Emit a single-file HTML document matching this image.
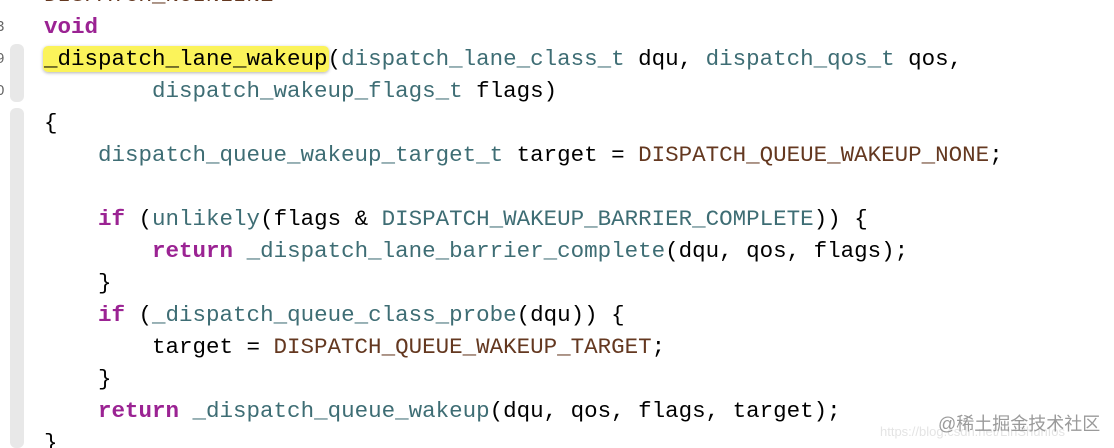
<!DOCTYPE html>
<html><head><meta charset="utf-8"><style>
html,body{margin:0;padding:0;background:#fff;width:1114px;height:448px;overflow:hidden;position:relative}
pre{position:absolute;left:44px;top:-21px;margin:0;font-family:"Liberation Mono",monospace;font-size:22.5px;line-height:32px;color:#000;letter-spacing:0}
.k{color:#9b2393;font-weight:bold}
.t{color:#3e6d74}
.m{color:#643820}
.h{background:#fbf35a;border-radius:5px;box-shadow:0 1px 3px rgba(0,0,0,.3);padding:0 1px;margin:0 -1px}
.bar{position:absolute;left:10px;width:14px;background:#e8e8e8;border-radius:6px}
.ln{position:absolute;left:-4px;font-family:"Liberation Sans",sans-serif;font-size:15px;color:#666}
.wm{position:absolute;left:938px;top:410px;font-family:"Liberation Sans","Noto Sans CJK SC",sans-serif;font-size:18px;color:#9a9a9a}
.wm2{position:absolute;left:880px;top:424px;font-family:"Liberation Sans",sans-serif;font-size:13px;color:#e4e4e4}
</style></head><body>
<div class="bar" style="top:44px;height:58px"></div>
<div class="bar" style="top:108px;height:340px"></div>
<div class="ln" style="top:18px">3</div>
<div class="ln" style="top:50px">9</div>
<div class="ln" style="top:82px">0</div>
<pre><span class="m">DISPATCH_NOINLINE</span>
<span class="k">void</span>
<span class="h">_dispatch_lane_wakeup</span>(<span class="t">dispatch_lane_class_t</span> dqu, <span class="t">dispatch_qos_t</span> qos,
        <span class="t">dispatch_wakeup_flags_t</span> flags)
{
    <span class="t">dispatch_queue_wakeup_target_t</span> target = <span class="m">DISPATCH_QUEUE_WAKEUP_NONE</span>;

    <span class="k">if</span> (<span class="t">unlikely</span>(flags &amp; <span class="t">DISPATCH_WAKEUP_BARRIER_COMPLETE</span>)) {
        <span class="k">return</span> <span class="t">_dispatch_lane_barrier_complete</span>(dqu, qos, flags);
    }
    <span class="k">if</span> (<span class="t">_dispatch_queue_class_probe</span>(dqu)) {
        target = <span class="m">DISPATCH_QUEUE_WAKEUP_TARGET</span>;
    }
    <span class="k">return</span> <span class="t">_dispatch_queue_wakeup</span>(dqu, qos, flags, target);
}</pre>
<div class="wm2">https://blog.csdn.net/LinShunIos</div>
<div class="wm">@稀土掘金技术社区</div>
</body></html>
